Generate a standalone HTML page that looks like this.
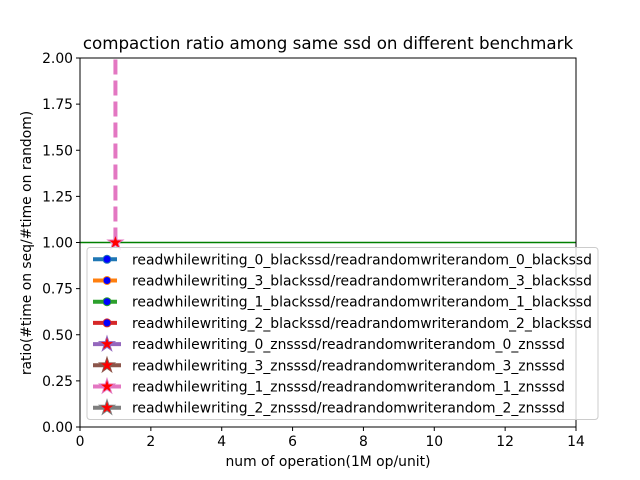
<!DOCTYPE html>
<html><head><meta charset="utf-8"><style>
body{margin:0;background:#fff;}
svg{display:block;font-family:"DejaVu Sans","Liberation Sans",sans-serif;}
</style></head><body>
<svg id="chart" width="640" height="480" viewBox="0 0 640 480" xmlns="http://www.w3.org/2000/svg">
<rect width="640" height="480" fill="#fff"/>
<text x="328" y="49" font-size="16.7" text-anchor="middle" fill="#000">compaction ratio among same ssd on different benchmark</text>
<defs><clipPath id="plotclip"><rect x="80" y="58" width="496" height="369"/></clipPath></defs>
<g id="plot" clip-path="url(#plotclip)"></g>
<g id="axes"></g>
<g id="legend"></g>
</svg>
<script>
const xTicks=[0,2,4,6,8,10,12,14];
const yTicks=[0.00,0.25,0.50,0.75,1.00,1.25,1.50,1.75,2.00];
const greenX=[0,20];
const greenY=[1,1];
const pinkX=[1,1];
const pinkY=[1,40];
const starX=[1];
const starY=[1];
const legendLabels=["readwhilewriting_0_blackssd/readrandomwriterandom_0_blackssd","readwhilewriting_3_blackssd/readrandomwriterandom_3_blackssd","readwhilewriting_1_blackssd/readrandomwriterandom_1_blackssd","readwhilewriting_2_blackssd/readrandomwriterandom_2_blackssd","readwhilewriting_0_znsssd/readrandomwriterandom_0_znsssd","readwhilewriting_3_znsssd/readrandomwriterandom_3_znsssd","readwhilewriting_1_znsssd/readrandomwriterandom_1_znsssd","readwhilewriting_2_znsssd/readrandomwriterandom_2_znsssd"];
const legendColors=["#1f77b4","#ff7f0e","#2ca02c","#d62728","#9467bd","#8c564b","#e377c2","#7f7f7f"];
const NS="http://www.w3.org/2000/svg";
const L=80,R=576,T=58,B=427;
function sx(v){return L+(v-0)/(14-0)*(R-L);}
function sy(v){return B-(v-0)/(2-0)*(B-T);}
function mk(tag,attrs,parent){const e=document.createElementNS(NS,tag);for(const k in attrs)e.setAttribute(k,attrs[k]);parent.appendChild(e);return e;}
function star(cx,cy,r,fill,stroke,parent){let p="";for(let i=0;i<10;i++){const a=-Math.PI/2+i*Math.PI/5;const rr=i%2?r*0.382:r;p+=(i?"L":"M")+(cx+rr*Math.cos(a)).toFixed(2)+" "+(cy+rr*Math.sin(a)).toFixed(2);}return mk("path",{d:p+"Z",fill:fill,stroke:stroke,"stroke-width":1},parent);}
const plot=document.getElementById("plot"),axes=document.getElementById("axes"),lg=document.getElementById("legend");
let g=mk("polyline",{points:greenX.map((x,i)=>sx(x)+","+sy(greenY[i])).join(" "),fill:"none",stroke:"#008000","stroke-width":1.5},plot);


let p=mk("polyline",{points:pinkX.map((x,i)=>sx(x)+","+sy(pinkY[i])).join(" "),fill:"none",stroke:"#e377c2","stroke-width":4,"stroke-dasharray":"15 6"},plot);


starX.forEach((x,i)=>{const s=star(sx(x),sy(starY[i]),8,"#ff0000","#e377c2",plot);

});
let fr=mk("rect",{x:L,y:T,width:R-L,height:B-T,fill:"none",stroke:"#000","stroke-width":1},axes);


xTicks.forEach(v=>{mk("line",{x1:sx(v),x2:sx(v),y1:B,y2:B+4,stroke:"#000"},axes);const t=mk("text",{x:sx(v),y:B+19,"font-size":13.9,"text-anchor":"middle"},axes);t.textContent=v;

});
yTicks.forEach(v=>{mk("line",{x1:L-4,x2:L,y1:sy(v),y2:sy(v),stroke:"#000"},axes);const t=mk("text",{x:L-7,y:sy(v)+5,"font-size":13.9,"text-anchor":"end"},axes);t.textContent=v.toFixed(2);

});
let xt=mk("text",{x:328,y:466,"font-size":13.9,"text-anchor":"middle"},axes);xt.textContent="num of operation(1M op/unit)";


let yt=mk("text",{x:31,y:243,"font-size":13.9,"text-anchor":"middle",transform:"rotate(-90 31 243)"},axes);yt.textContent="ratio(#time on seq/#time on random)";


let box=mk("rect",{x:87,y:247.5,width:511,height:172,rx:3,fill:"#fff","fill-opacity":0.8,stroke:"#ccc"},lg);


legendLabels.forEach((lab,i)=>{const cy=259.3+i*21.2;const grp=mk("g",{},lg);


mk("line",{x1:93,x2:121,y1:cy,y2:cy,stroke:legendColors[i],"stroke-width":4,"stroke-dasharray":i<4?"10 4":"none"},grp);
if(i<4)mk("circle",{cx:107,cy:cy,r:4,fill:"#0000ff",stroke:legendColors[i],"stroke-width":1},grp);else star(107,cy,8,"#ff0000",legendColors[i],grp);
const t=mk("text",{x:132,y:cy+5,"font-size":13.9},grp);t.textContent=lab;});
</script>
</body></html>
